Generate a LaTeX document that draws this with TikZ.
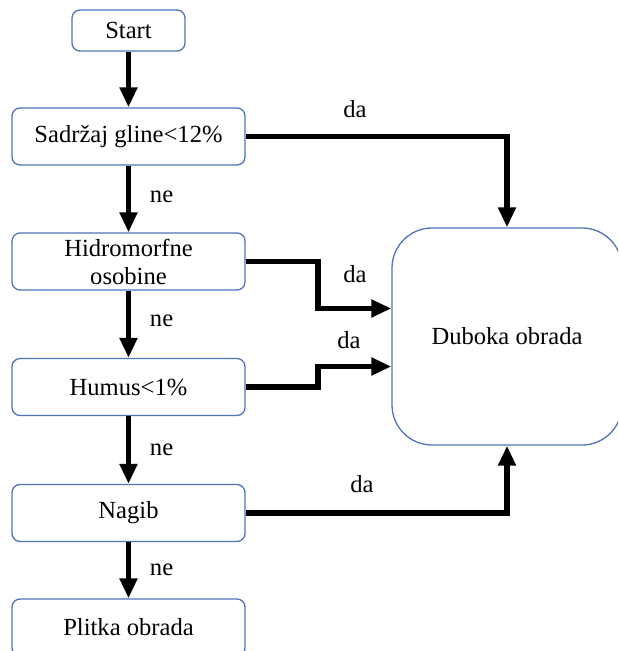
\documentclass[tikz,border=0pt]{standalone}
\usepackage{fontspec}
\setmainfont{Liberation Serif}
\usetikzlibrary{positioning,arrows.meta}

\definecolor{boxblue}{RGB}{80,115,185}

\begin{document}
\begin{tikzpicture}[
  x=0.5pt, y=-0.5pt,
  box/.style={rectangle, draw=boxblue, line width=0.65pt, rounded corners=4pt, align=center, minimum width=116.5pt, minimum height=28.5pt, inner sep=0pt, font=\fontsize{12.3pt}{14pt}\selectfont},
  bigbox/.style={box, rounded corners=20pt, minimum width=115pt, minimum height=108.5pt},
  lbl/.style={font=\fontsize{12.3pt}{14pt}\selectfont},
  arrow/.style={-{Triangle[length=10pt, width=8.5pt]}, line width=2.8pt},
]

\useasboundingbox (0,0) rectangle (618,651);
\clip (0,0) rectangle (618,651);

% === Main column ===
\node[box, minimum width=56.5pt, minimum height=20.5pt] (start) at (128.5, 30.5) {Start};
\node[box] (glina) at (128.5, 136.5) {Sadržaj gline<12\%};
\node[box] (hidro) at (128.5, 261.5) {Hidromorfne\\osobine};
\node[box] (humus) at (128.5, 387) {Humus<1\%};
\node[box] (nagib) at (128.5, 513) {Nagib};
\node[box] (plitka) at (128.5, 627.5) {Plitka obrada};

% === Result (right) ===
\node[bigbox] (duboka) at (507, 336.5) {Duboka obrada};

% === ne ===
\draw[arrow] (start) -- (glina);
\draw[arrow] (glina) -- node[lbl, right=6pt, yshift=1pt] {ne} (hidro);
\draw[arrow] (hidro) -- node[lbl, right=6pt, yshift=1.5pt] {ne} (humus);
\draw[arrow] (humus) -- node[lbl, right=6pt] {ne} (nagib);
\draw[arrow] (nagib) -- node[lbl, right=6pt] {ne} (plitka);

% === da ===
\coordinate (jHidro) at (318, 308.5);
\coordinate (jHumus) at (318, 366.5);

\draw[arrow] (glina.east) -| (duboka.north);
\draw[arrow] (hidro.east) -| (jHidro) -- (jHidro -| duboka.west);
\draw[arrow] (humus.east) -| (jHumus) -- (jHumus -| duboka.west);
\draw[arrow] (nagib.east) -| (duboka.south);

\node[lbl] (daGlina) at (355, 109) {da};
\node[lbl] (daHidro) at (355, 274) {da};
\node[lbl] (daHumus) at (349, 340) {da};
\node[lbl] (daNagib) at (362, 484) {da};

\end{tikzpicture}
\end{document}
